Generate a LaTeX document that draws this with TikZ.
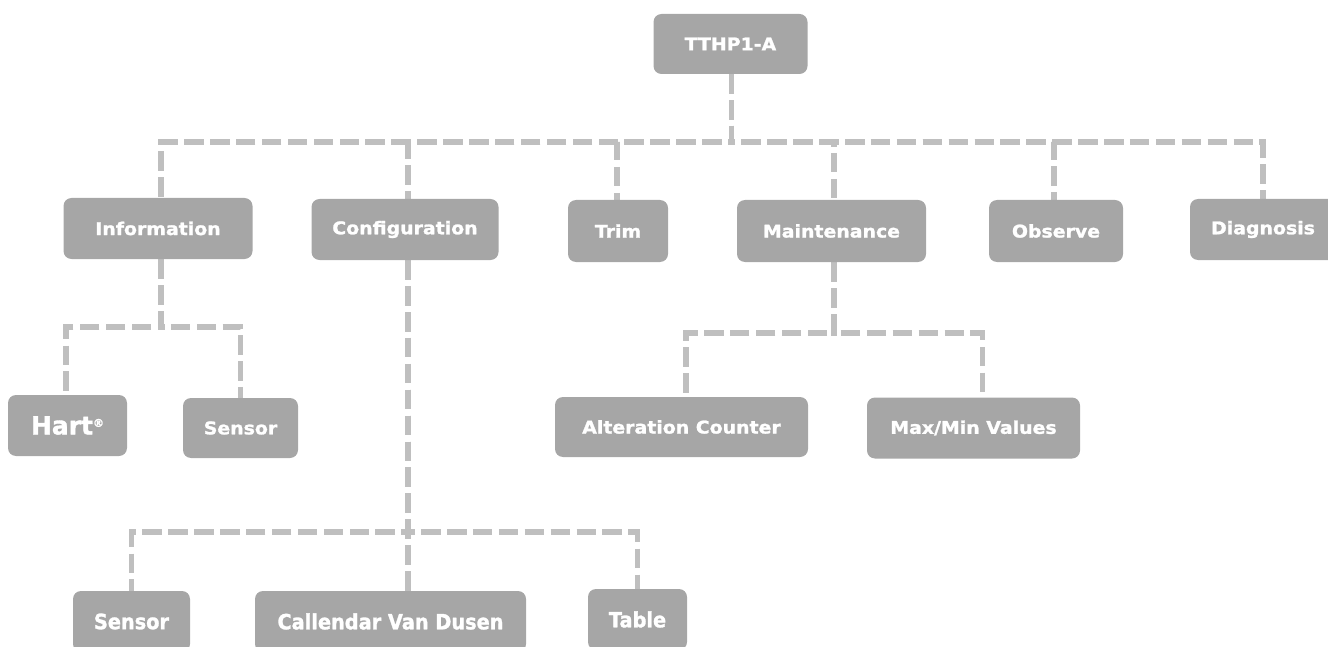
\documentclass[tikz,border=0pt]{standalone}
\usepackage{fontspec}
\usetikzlibrary{backgrounds}
\newfontfamily\boxfont{DejaVu Sans}[FakeStretch=1.08, BoldFeatures={FakeBold=1.4}]
\newfontfamily\narrowfont{DejaVu Sans}[FakeStretch=0.92, BoldFeatures={FakeBold=1.4}]
\newfontfamily\hartfont{DejaVu Sans}[BoldFeatures={FakeBold=1.6}]
\definecolor{boxgray}{HTML}{A6A6A6}
\definecolor{linegray}{HTML}{BFBFBF}
\begin{document}
\begin{tikzpicture}[x=1pt,y=-1pt,
  box/.style={fill=boxgray, rounded corners=8pt, text=white, inner sep=0pt,
    font={\boxfont\bfseries\fontsize{17.5}{20}\selectfont}},
  lowbox/.style={box, font={\narrowfont\bfseries\fontsize{21}{24}\selectfont}},
  conn/.style={draw=linegray, line width=5.8pt, dash pattern=on 19.5pt off 6.4pt}]
\clip (0,0) rectangle (1328,647);
% nodes
\node[box, minimum width=154pt, minimum height=60pt] (root) at (730.5,44) {TTHP1-A};
\node[box, minimum width=189pt, minimum height=61pt] (info) at (158,228.5) {Information};
\node[box, minimum width=187pt, minimum height=61pt] (config) at (405,229.5) {Configuration};
\node[box, minimum width=100pt, minimum height=62pt] (trim) at (618,231) {Trim};
\node[box, minimum width=189pt, minimum height=62pt] (maint) at (831.5,231) {Maintenance};
\node[box, minimum width=134pt, minimum height=62pt] (observe) at (1056,231) {Observe};
\node[box, minimum width=146pt, minimum height=61pt] (diag) at (1263,229.5) {Diagnosis};
\node[box, minimum width=119pt, minimum height=61pt,
  font={\hartfont\bfseries\fontsize{25}{28}\selectfont}] (hart) at (67.5,425.5)
  {Hart\raisebox{0.55ex}{\fontsize{11}{11}\selectfont ®}};
\node[box, minimum width=115pt, minimum height=60pt] (sensorA) at (240.5,428) {Sensor};
\node[box, minimum width=253pt, minimum height=60pt] (alt) at (681.5,427) {Alteration Counter};
\node[box, minimum width=213pt, minimum height=61pt] (maxmin) at (973.5,428) {Max/Min Values};
\node[lowbox, minimum width=117pt, minimum height=61pt] (sensorB) at (131.5,621.5) {Sensor};
\node[lowbox, minimum width=271pt, minimum height=61pt] (cvd) at (390.5,621.5) {Callendar Van Dusen};
\node[lowbox, minimum width=99pt, minimum height=61pt] (table) at (637.5,619.5) {Table};
% junctions
\coordinate (j0) at (731.5,142);
\coordinate (j1) at (161,327);
\coordinate (j2) at (834,333);
\coordinate (j3) at (408,532);
% connectors
\begin{scope}[on background layer]
\draw[conn] ([xshift=1pt]root.south) -- (j0) -| ([xshift=3pt]info.north);
\draw[conn] ([xshift=1pt]root.south) -- (j0) -| ([xshift=3pt]config.north);
\draw[conn] ([xshift=1pt]root.south) -- (j0) -| ([xshift=-1pt]trim.north);
\draw[conn] ([xshift=1pt]root.south) -- (j0) -| ([xshift=2.5pt]maint.north);
\draw[conn] ([xshift=1pt]root.south) -- (j0) -| ([xshift=-2pt]observe.north);
\draw[conn] ([xshift=1pt]root.south) -- (j0) -| (diag.north);
\draw[conn] ([xshift=3pt]info.south) -- (j1) -| ([xshift=-1.5pt]hart.north);
\draw[conn] ([xshift=3pt]info.south) -- (j1) -| (sensorA.north);
\draw[conn] ([xshift=2.5pt]maint.south) -- (j2) -| ([xshift=4.5pt]alt.north);
\draw[conn] ([xshift=2.5pt]maint.south) -- (j2) -| ([xshift=9pt]maxmin.north);
\draw[conn] ([xshift=3pt]config.south) -- (j3) -| (sensorB.north);
\draw[conn] ([xshift=3pt]config.south) -- (j3) -- (cvd.north -| j3);
\draw[conn] ([xshift=3pt]config.south) -- (j3) -| (table.north);
\end{scope}
\end{tikzpicture}
\end{document}
